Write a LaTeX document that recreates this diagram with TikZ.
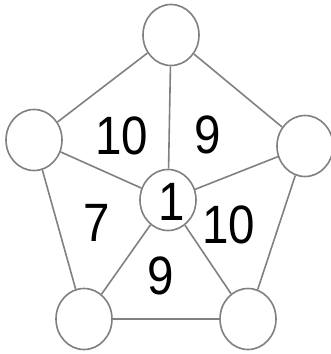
\documentclass[tikz,border=0pt]{standalone}
\usepackage{fontspec}
\setmainfont[FakeStretch=0.88]{Liberation Sans}
\usetikzlibrary{shapes.geometric}

\begin{document}
\begin{tikzpicture}[
    x=1pt, y=-1pt,
    every node/.style={font=\fontsize{54}{54}\selectfont},
    vertex/.style={draw=black!50, ellipse, line width=1.6pt, minimum width=56pt, minimum height=61pt, inner sep=0pt},
    edge/.style={draw=black!50, line width=1.6pt},
    weight/.style={inner sep=0pt}
]
\useasboundingbox (0,0) rectangle (330,354);

% vrcholy
\node[vertex] (T) at (171,35) {};
\node[vertex] (L) at (34,140) {};
\node[vertex] (R) at (305,146) {};
\node[vertex] (BL) at (84,319) {};
\node[vertex] (BR) at (248,319) {};
\node[vertex] (C) at (168,200) {};
\node[weight] (c1) at (172,202) {1};

% hrany
\draw[edge] (T) -- (L);
\draw[edge] (T) -- (R);
\draw[edge] (T) -- (C);
\draw[edge] (L) -- (C);
\draw[edge] (R) -- (C);
\draw[edge] (L) -- (BL);
\draw[edge] (R) -- (BR);
\draw[edge] (BL) -- (C);
\draw[edge] (BR) -- (C);
\draw[edge] (BL) -- (BR);

% popisky oblastí
\node[weight] (w1) at (122,136) {10};
\node[weight] (w2) at (208,135) {9};
\node[weight] (w3) at (97,223) {7};
\node[weight] (w4) at (229,225) {10};
\node[weight] (w5) at (161,276) {9};

\end{tikzpicture}
\end{document}
